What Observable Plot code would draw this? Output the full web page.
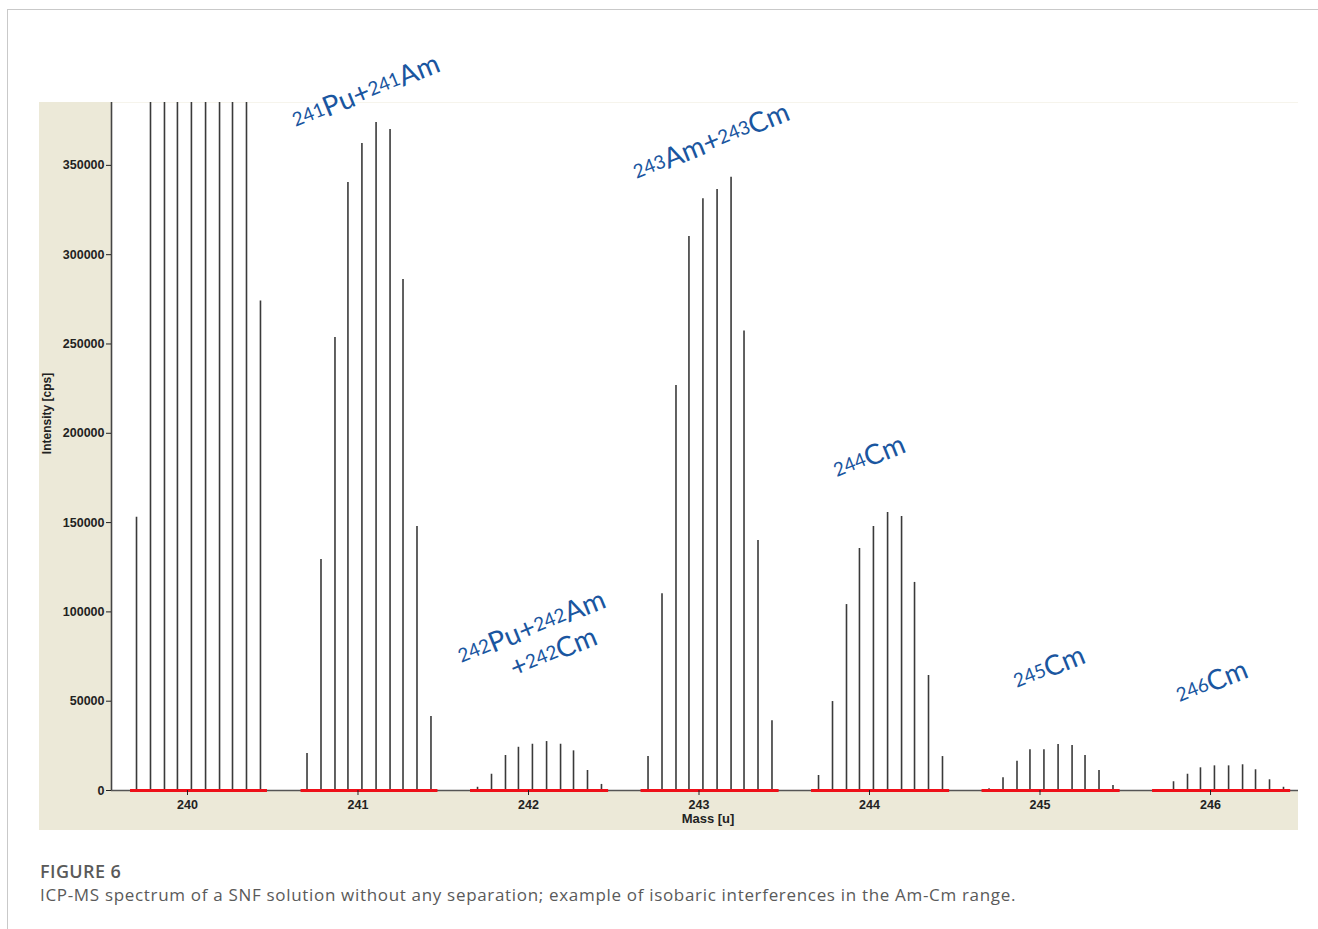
<!DOCTYPE html>
<html><head><meta charset="utf-8">
<script src="https://cdn.jsdelivr.net/npm/d3@7"></script>
<script src="https://cdn.jsdelivr.net/npm/@observablehq/plot@0.6"></script>
<style>
body{margin:0;background:#fff;width:1318px;height:929px;overflow:hidden;position:relative;font-family:"Open Sans",sans-serif}
#border{position:absolute;left:7px;top:9px;right:-2px;bottom:-5px;border-left:1px solid #c9c9c9;border-top:1px solid #c9c9c9}
#panel{position:absolute;left:39px;top:102px;width:1259px;height:728px;background:#ece9d8}
#chart{position:absolute;left:0;top:0}
#fig{position:absolute;left:40px;top:859px;font-size:18px;letter-spacing:0.4px;font-weight:600;color:#5a5a5a}
#cap{position:absolute;left:40px;top:883px;font-size:17px;letter-spacing:0.68px;color:#5a5a5a}
</style></head><body>
<div id="border"></div>
<div id="panel"></div>
<div id="chart"></div>
<div id="fig">FIGURE 6</div>
<div id="cap">ICP-MS spectrum of a SNF solution without any separation; example of isobaric interferences in the Am-Cm range.</div>
<script>
// nominal masses (x tick labels)
const masses = [240, 241, 242, 243, 244, 245, 246];
// position of each of the 10 scan points relative to the nominal mass (u)
const scanOffsets = [-0.299, -0.217, -0.135, -0.059, 0.023, 0.106, 0.188, 0.264, 0.346, 0.428];
// intensities (cps) per nominal mass; 240 middle points are off scale (estimated)
const intensity240 = [153000, 520000, 780000, 980000, 1100000, 1120000, 1000000, 800000, 560000, 274000];
const intensity241 = [20700, 129300, 253600, 340400, 362300, 374000, 370100, 286100, 147800, 41400];
const intensity242 = [1800, 9100, 19600, 24200, 25900, 27400, 25900, 22200, 11200, 3400];
const intensity243 = [19000, 110100, 226800, 310200, 331300, 336500, 343400, 257200, 140000, 39000];
const intensity244 = [8400, 49800, 104100, 135500, 147800, 155700, 153400, 116500, 64400, 19000];
const intensity245 = [1000, 7100, 16400, 22800, 22800, 25800, 25200, 19600, 11200, 2800];
const intensity246 = [0, 4900, 9100, 12700, 13800, 13800, 14400, 11600, 6000, 1800];
// acquisition windows (red segments)
const windowLo = [239.666, 240.666, 241.66, 242.66, 243.66, 244.66, 245.66];
const windowHi = [240.469, 241.469, 242.47, 243.47, 244.47, 245.47, 246.47];
// y ticks
const yTicks = [0, 50000, 100000, 150000, 200000, 250000, 300000, 350000];
// annotations ({..} = superscript)
const labelText = ["{241}Pu+{241}Am", "{242}Pu+{242}Am", "+{242}Cm", "{243}Am+{243}Cm", "{244}Cm", "{245}Cm", "{246}Cm"];
const labelMass = [240.64, 241.612, 241.92, 242.64, 243.815, 244.87, 245.825];
const labelIntensity = [370000, 70000, 63000, 341000, 174000, 56000, 48000];

const groups = [intensity240, intensity241, intensity242, intensity243, intensity244, intensity245, intensity246];
const peaks = masses.flatMap((m, i) => groups[i].map((v, k) => ({mass: m + scanOffsets[k], intensity: v})));
const windows = masses.map((m, i) => ({lo: windowLo[i], hi: windowHi[i]}));
const labels = labelText.map((t, i) => ({text: t, mass: labelMass[i], intensity: labelIntensity[i]}));

const xMin = 239.5543, xMax = 246.516;
const axisFont = "'Liberation Sans', Arial, sans-serif";

const plot = Plot.plot({
  width: 1318, height: 840,
  marginLeft: 111, marginRight: 20, marginTop: 102, marginBottom: 50,
  style: {background: "transparent", fontFamily: axisFont, overflow: "visible"},
  x: {domain: [xMin, xMax]},
  y: {domain: [0, 385200], clamp: true},
  marks: [
    Plot.frame({fill: "white", stroke: "none"}),
    Plot.ruleX(peaks, {x: "mass", y1: 0, y2: "intensity", stroke: "#3a3a3a", strokeWidth: 1.6, clip: true}),
    Plot.ruleY([0], {stroke: "#555", strokeWidth: 1.5}),
    Plot.ruleX([xMin], {stroke: "#444", strokeWidth: 1.6}),
    Plot.ruleY(windows, {y: 0, x1: "lo", x2: "hi", stroke: "#ee1019", strokeWidth: 3.2}),
    Plot.axisY({ticks: yTicks, tickFormat: d => String(d), tickSize: 5, tickPadding: 2, fontSize: 12.5, fontWeight: "bold", color: "#222", label: null}),
    Plot.axisX({ticks: masses, tickFormat: d => String(d), tickSize: 5, tickPadding: 5, fontSize: 12.5, fontWeight: "bold", color: "#222", label: null}),
    Plot.text(["Mass [u]"], {text: d => d, frameAnchor: "bottom", textAnchor: "middle", dx: 3, dy: 32, fontSize: 13, fontWeight: "bold", fill: "#222"}),
    Plot.text(["Intensity [cps]"], {text: d => d, frameAnchor: "left", textAnchor: "middle", rotate: -90, dx: -64, dy: -33, fontSize: 12, fontWeight: "bold", fill: "#222"}),
    Plot.text(labels, {x: "mass", y: "intensity", text: "text", rotate: -22, textAnchor: "start", lineAnchor: "bottom",
      fontSize: 28, fontFamily: "Lato, 'Open Sans', sans-serif", fontWeight: "normal", fill: "#1a56a0"})
  ]
});

// turn {..} parts into superscript tspans
plot.querySelectorAll("text").forEach(t => {
  const s = t.textContent;
  if (!s.includes("{")) return;
  while (t.firstChild) t.removeChild(t.firstChild);
  const parts = s.split(/(\{[^}]*\})/).filter(p => p);
  let raised = false;
  parts.forEach(p => {
    const ts = document.createElementNS("http://www.w3.org/2000/svg", "tspan");
    if (p.startsWith("{")) {
      ts.textContent = p.slice(1, -1);
      ts.setAttribute("font-size", "19");
      if (!raised) ts.setAttribute("dy", "-3");
      raised = true;
    } else {
      ts.textContent = p;
      if (raised) ts.setAttribute("dy", "3");
      raised = false;
    }
    t.appendChild(ts);
  });
});

document.getElementById("chart").appendChild(plot);
</script>
</body></html>
